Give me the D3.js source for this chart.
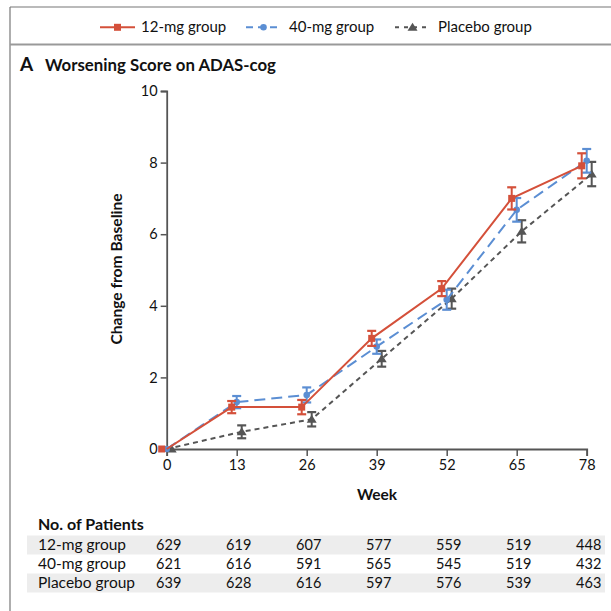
<!DOCTYPE html>
<html>
<head>
<meta charset="utf-8">
<script src="https://cdn.jsdelivr.net/npm/d3@7"></script>
<style>
  html, body { margin: 0; padding: 0; background: #fff; }
  svg { display: block; font-family: Lato, "Open Sans", sans-serif; }
</style>
</head>
<body>
<svg id="chart" width="611" height="611"></svg>
<script>
// Weeks of assessment
const weeks = [0, 13, 26, 39, 52, 65, 78];

// Mean change from baseline on ADAS-cog per group
const group12 = [0, 1.17, 1.17, 3.09, 4.48, 7.0, 7.91];
const group40 = [0, 1.31, 1.51, 2.86, 4.17, 6.68, 8.05];
const placebo = [0, 0.48, 0.83, 2.52, 4.2, 6.08, 7.68];

// Half-width of error bars (standard error)
const err12 = [0, 0.17, 0.2, 0.21, 0.21, 0.31, 0.35];
const err40 = [0, 0.17, 0.21, 0.2, 0.28, 0.33, 0.33];
const errPl = [0, 0.18, 0.2, 0.22, 0.28, 0.31, 0.34];

// Number of patients at each visit
const patients12 = [629, 619, 607, 577, 559, 519, 448];
const patients40 = [621, 616, 591, 565, 545, 519, 432];
const patientsPl = [639, 628, 616, 597, 576, 539, 463];

const groupNames = ["12-mg group", "40-mg group", "Placebo group"];
const yTicks = [0, 2, 4, 6, 8, 10];

const svg = d3.select("#chart");

const red = "#d4503a", blue = "#5b8ed3", grey = "#555555";

const series = [
  { name: groupNames[0], vals: group12, err: err12, color: red, dash: null, shift: -5, marker: "square" },
  { name: groupNames[1], vals: group40, err: err40, color: blue, dash: "11,6", shift: 0, marker: "circle" },
  { name: groupNames[2], vals: placebo, err: errPl, color: grey, dash: "5,4", shift: 5, marker: "triangle" }
];

// Frame
svg.append("line").attr("x1", 10).attr("x2", 611).attr("y1", 7).attr("y2", 7)
  .attr("stroke", "#777").attr("stroke-width", 1.2);
svg.append("line").attr("x1", 10).attr("x2", 10).attr("y1", 7).attr("y2", 611)
  .attr("stroke", "#777").attr("stroke-width", 1.2);
svg.append("line").attr("x1", 10).attr("x2", 611).attr("y1", 44.5).attr("y2", 44.5)
  .attr("stroke", "#999").attr("stroke-width", 2);

// Scales
const x = d3.scaleLinear().domain([0, 78]).range([166.7, 586.7]);
const y = d3.scaleLinear().domain([0, 10]).range([449, 91]);

// Marker drawer
function drawMarker(g, type, cx, cy, color) {
  if (type === "square") {
    g.append("rect").attr("x", cx - 3.5).attr("y", cy - 3.5).attr("width", 7).attr("height", 7).attr("fill", color);
  } else if (type === "circle") {
    g.append("circle").attr("cx", cx).attr("cy", cy).attr("r", 3.3).attr("fill", color);
  } else {
    g.append("path").attr("d", `M${cx},${cy - 4.5}L${cx + 5},${cy + 3.5}L${cx - 5},${cy + 3.5}Z`).attr("fill", color);
  }
}

// Legend
const legendItems = [
  { s: series[0], lx: 100, tx: 141 },
  { s: series[1], lx: 246, tx: 289 },
  { s: series[2], lx: 395, tx: 438 }
];
const legend = svg.append("g");
legendItems.forEach(it => {
  const g = legend.append("g");
  const ly = 27.3;
  g.append("line").attr("x1", it.lx).attr("x2", it.lx + 35).attr("y1", ly).attr("y2", ly)
    .attr("stroke", it.s.color).attr("stroke-width", 2)
    .attr("stroke-dasharray", it.s.dash === "11,6" ? "7,5" : (it.s.dash ? "4,5" : null));
  drawMarker(g, it.s.marker, it.lx + 17.5, ly, it.s.color);
  g.append("text").attr("x", it.tx).attr("y", ly + 5).attr("font-size", 15).attr("fill", "#111")
    .text(it.s.name);
});

// Panel title
svg.append("text").attr("x", 20).attr("y", 71).attr("font-size", 19).attr("font-weight", 700)
  .attr("fill", "#111").text("A");
svg.append("text").attr("x", 45).attr("y", 71).attr("font-size", 16.8).attr("font-weight", 700)
  .attr("fill", "#111").text("Worsening Score on ADAS-cog");

// Axes
const yAxis = d3.axisLeft(y).tickValues(yTicks).tickSize(6).tickPadding(3).tickFormat(d3.format("d"));
const xAxis = d3.axisBottom(x).tickValues(weeks).tickSize(7).tickPadding(4).tickFormat(d3.format("d"));

const gy = svg.append("g").attr("transform", `translate(${x(0)},0)`).call(yAxis);
const gx = svg.append("g").attr("transform", `translate(0,${y(0)})`).call(xAxis);

[gx, gy].forEach(g => {
  g.select(".domain").attr("stroke", "#555").attr("stroke-width", 1.8);
  g.selectAll(".tick line").attr("stroke", "#555").attr("stroke-width", 1.5);
  g.selectAll(".tick text").attr("font-size", 14.5).attr("fill", "#111").attr("font-family", "Lato, sans-serif");
});

// Axis titles
svg.append("text").attr("transform", "translate(122,269) rotate(-90)")
  .attr("text-anchor", "middle").attr("font-size", 15.6).attr("font-weight", 700).attr("fill", "#111")
  .text("Change from Baseline");
svg.append("text").attr("x", 377).attr("y", 500).attr("text-anchor", "middle")
  .attr("font-size", 15.5).attr("font-weight", 700).attr("fill", "#111").text("Week");

// Series: lines, error bars, markers (placebo first so drugs draw on top)
const plot = svg.append("g");
[series[2], series[1], series[0]].forEach(s => {
  const pts = weeks.map((w, i) => ({ w, v: s.vals[i], e: s.err[i], i }));
  const line = d3.line().x(d => x(d.w) + (d.i === 0 ? 0 : s.shift)).y(d => y(d.v));
  plot.append("path").datum(pts).attr("d", line)
    .attr("fill", "none").attr("stroke", s.color).attr("stroke-width", 2)
    .attr("stroke-dasharray", s.dash);
  pts.forEach(d => {
    const cx = x(d.w) + (d.i === 0 ? 0 : s.shift);
    if (d.e > 0) {
      const y1 = y(d.v + d.e), y2 = y(d.v - d.e);
      plot.append("line").attr("x1", cx).attr("x2", cx).attr("y1", y1).attr("y2", y2)
        .attr("stroke", s.color).attr("stroke-width", 2);
      [y1, y2].forEach(yy => plot.append("line").attr("x1", cx - 4.5).attr("x2", cx + 4.5)
        .attr("y1", yy).attr("y2", yy).attr("stroke", s.color).attr("stroke-width", 2.2));
    }
    const mx = d.i === 0 ? cx + s.shift : cx;
    drawMarker(plot, s.marker, mx, y(d.v), s.color);
  });
});

// Patients table
svg.append("text").attr("x", 38).attr("y", 530).attr("font-size", 16).attr("font-weight", 700)
  .attr("fill", "#111").text("No. of Patients");
const rows = [patients12, patients40, patientsPl];
const rowY = [545, 564, 583];
rows.forEach((r, ri) => {
  if (ri !== 1) {
    svg.append("rect").attr("x", 27).attr("y", rowY[ri] - 9.5).attr("width", 578).attr("height", 19)
      .attr("fill", "#ededed");
  }
  svg.append("text").attr("x", 38).attr("y", rowY[ri] + 5).attr("font-size", 15.5).attr("fill", "#111")
    .text(groupNames[ri]);
  r.forEach((n, i) => {
    svg.append("text").attr("x", x(weeks[i]) + 2).attr("y", rowY[ri] + 5).attr("text-anchor", "middle")
      .attr("font-size", 14.5).attr("fill", "#111").text(n);
  });
});
</script>
</body>
</html>
